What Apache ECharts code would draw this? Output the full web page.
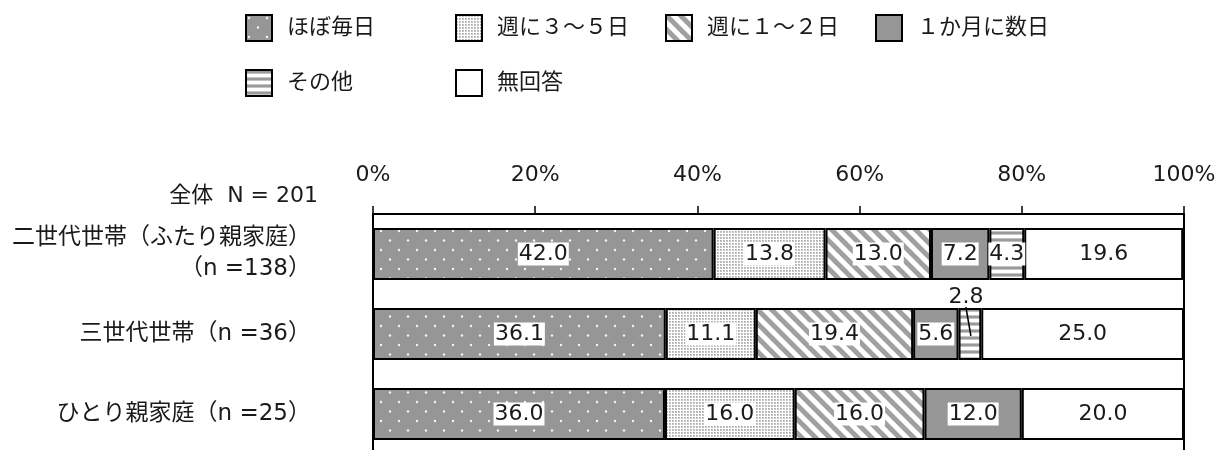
<!DOCTYPE html>
<html>
<head>
<meta charset="utf-8">
<script src="https://cdn.jsdelivr.net/npm/echarts@6/dist/echarts.min.js"></script>
<style>
html,body{margin:0;padding:0;background:#fff;}
#chart{width:1220px;height:450px;}
</style>
</head>
<body>
<div id="chart"></div>
<script>
// ---- data ----
const categories = ['二世代世帯（ふたり親家庭）\n（n =138）', '三世代世帯（n =36）', 'ひとり親家庭（n =25）'];
const seriesNames = ['ほぼ毎日', '週に３～５日', '週に１～２日', '１か月に数日', 'その他', '無回答'];
const almostDaily = [42.0, 36.1, 36.0];
const threeToFive = [13.8, 11.1, 16.0];
const oneToTwo = [13.0, 19.4, 16.0];
const fewPerMonth = [7.2, 5.6, 12.0];
const other = [4.3, 2.8, 0];
const noAnswer = [19.6, 25.0, 20.0];
const xTicks = [0, 20, 40, 60, 80, 100];
const totalLabel = '全体  N = 201';
// which segment's label sits outside its bar (series index, row index)
const outsideLabels = [[4, 1]];

const FONT = "'DejaVu Sans', 'Noto Sans CJK JP', sans-serif";
const TXT = '#1a1a1a';

function makePattern(w, h, draw) {
  const c = document.createElement('canvas');
  c.width = w; c.height = h;
  const ctx = c.getContext('2d');
  draw(ctx, w, h);
  return { image: c, repeat: 'repeat' };
}
const GRAY = '#969696';
const patDots = makePattern(18, 19, (ctx, w, h) => {
  ctx.fillStyle = GRAY; ctx.fillRect(0, 0, w, h);
  ctx.fillStyle = 'rgba(255,255,255,0.9)';
  [[3, 3], [12, 12.5]].forEach(([x, y]) => { ctx.beginPath(); ctx.arc(x, y, 1.2, 0, Math.PI * 2); ctx.fill(); });
});
const patFine = makePattern(3, 3, (ctx, w, h) => {
  ctx.fillStyle = '#fff'; ctx.fillRect(0, 0, w, h);
  ctx.fillStyle = '#c4c4c4'; ctx.fillRect(0, 0, 2, 2);
  ctx.fillStyle = '#a8a8a8'; ctx.fillRect(0, 0, 1, 1);
});
const patDiag = makePattern(14, 14, (ctx, w, h) => {
  ctx.fillStyle = '#fff'; ctx.fillRect(0, 0, w, h);
  ctx.strokeStyle = '#a0a0a0'; ctx.lineWidth = 5;
  for (let k = -1; k <= 1; k++) {
    ctx.beginPath(); ctx.moveTo(k * 14 - 3, -3); ctx.lineTo(k * 14 + 17, 17); ctx.stroke();
  }
});
const patHoriz = makePattern(4, 7, (ctx, w, h) => {
  ctx.fillStyle = '#fff'; ctx.fillRect(0, 0, w, h);
  ctx.fillStyle = '#c4c4c4'; ctx.fillRect(0, 0, w, 1); ctx.fillRect(0, 3, w, 1);
  ctx.fillStyle = '#9a9a9a'; ctx.fillRect(0, 1, w, 2);
});
const fills = [patDots, patFine, patDiag, GRAY, patHoriz, '#ffffff'];
const seriesData = [almostDaily, threeToFive, oneToTwo, fewPerMonth, other, noAnswer];

const isOutside = (si, i) => outsideLabels.some(([s, r]) => s === si && r === i);

const series = seriesNames.map((name, si) => ({
  name: name,
  type: 'bar',
  stack: 'total',
  barWidth: 52,
  itemStyle: { color: fills[si], borderColor: '#000', borderWidth: 2 },
  label: {
    show: true,
    position: 'inside',
    formatter: p => p.value.toFixed(1),
    color: TXT,
    fontFamily: FONT,
    fontSize: 22,
    backgroundColor: '#fff',
    padding: [0, 1],
    lineHeight: 23
  },
  labelLayout: p => (isOutside(si, p.dataIndex) ? { dy: -37, dx: -4 } : {}),
  data: seriesData[si].map((v, i) => {
    if (v === 0) return { value: v, label: { show: false }, itemStyle: { borderWidth: 0 } };
    if (isOutside(si, i)) return { value: v, label: { backgroundColor: 'transparent' } };
    return v;
  })
}));

// leader line for labels placed outside their segment: anchored at segment centre via the axes
const leaderData = outsideLabels.map(([s, r]) => {
  let start = 0;
  for (let k = 0; k < s; k++) start += seriesData[k][r];
  return [start + seriesData[s][r] / 2, r];
});
series.push({
  type: 'custom',
  name: 'leader',
  z: 5,
  silent: true,
  data: leaderData,
  renderItem: (params, api) => {
    const p = api.coord([api.value(0), api.value(1)]);
    return {
      type: 'line',
      shape: { x1: p[0] - 4, y1: p[1] - 27, x2: p[0] + 1, y2: p[1] + 2 },
      style: { stroke: '#000', lineWidth: 1.5 }
    };
  }
});

const legends = seriesNames.map((name, i) => ({
  data: [name],
  left: 245 + (i % 4) * 210,
  top: i < 4 ? 14 : 69,
  padding: 0,
  icon: 'rect',
  itemWidth: 26,
  itemHeight: 26,
  textStyle: { fontFamily: FONT, fontSize: 22, color: TXT, padding: [0, 0, 0, 10] },
  selectedMode: false
}));

const chart = echarts.init(document.getElementById('chart'), null, { renderer: 'canvas' });
chart.setOption({
  backgroundColor: '#fff',
  animation: false,
  legend: legends,
  grid: {
    left: 373, right: 36, top: 214, height: 240,
    outerBoundsMode: 'none', containLabel: false,
    show: true, borderColor: '#000', borderWidth: 2, backgroundColor: 'transparent'
  },
  xAxis: {
    type: 'value', position: 'top', min: xTicks[0], max: xTicks[xTicks.length - 1], interval: 20,
    axisLine: { show: true, lineStyle: { color: '#000', width: 2 } },
    axisTick: { show: true, length: 8, lineStyle: { color: '#000', width: 1.5 } },
    splitLine: { show: false },
    axisLabel: { formatter: '{value}%', fontFamily: FONT, fontSize: 22, color: TXT, margin: 28 }
  },
  yAxis: {
    type: 'category', inverse: true, data: categories,
    axisLine: { show: false }, axisTick: { show: false },
    axisLabel: { fontFamily: FONT, fontSize: 23, color: TXT, margin: 62, lineHeight: 31, align: 'right' }
  },
  graphic: [{
    type: 'text', right: 902, top: 185,
    style: { text: totalLabel, font: '22px ' + FONT, fill: TXT }
  }],
  series: series
});
</script>
</body>
</html>
